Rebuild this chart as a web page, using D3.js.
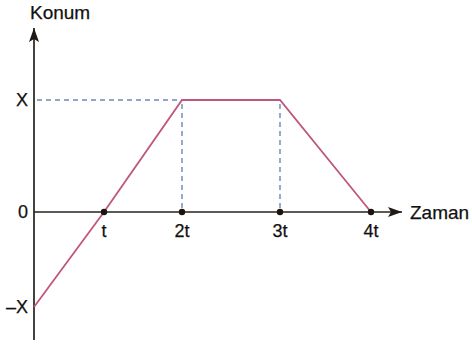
<!DOCTYPE html>
<html lang="tr">
<head>
    <meta charset="UTF-8">
    <title>Konum - Zaman</title>
    <script src="https://d3js.org/d3.v7.min.js"></script>
    <style>
        body {
            margin: 0;
            padding: 0;
            background: #fff;
            overflow: hidden;
        }

        svg text {
            font-family: "Liberation Sans", Arial, sans-serif;
            fill: #111;
            stroke: #111;
            stroke-width: 0.25px;
        }

        .axis {
            stroke: #24221d;
            stroke-width: 1.7px;
        }

        .guide {
            stroke: #6f86b5;
            stroke-width: 1.4px;
            stroke-dasharray: 5 4;
        }

        .motion {
            fill: none;
            stroke: #c0567f;
            stroke-width: 1.8px;
        }
    </style>
</head>
<body>
    <svg id="chart" width="472" height="346"></svg>
    <script>
        // time ticks (in units of t) and their labels
        var timeTicks = [0, 1, 2, 3, 4];
        var timeLabels = ['', 't', '2t', '3t', '4t'];

        // position ticks (in units of X) and their labels
        var posTicks = [-1, 0, 1];
        var posLabels = ['\u2013X', '0', 'X'];

        // konum-zaman points: time (t) and position (X)
        var times = [0, 1, 2, 3, 4];
        var positions = [-1, 0, 1, 1, 0];

        var svg = d3.select('#chart');

        // the drawing is not evenly spaced, so use piecewise scales
        var x = d3.scaleLinear()
            .domain([0, 1, 2, 3, 4])
            .range([34, 104, 182, 280, 371]);

        var y = d3.scaleLinear()
            .domain([-1, 0, 1])
            .range([307, 212, 100]);

        // arrow heads
        var defs = svg.append('defs');
        defs.append('marker')
            .attr('id', 'arrow')
            .attr('viewBox', '0 0 14 10')
            .attr('refX', 14)
            .attr('refY', 5)
            .attr('markerWidth', 14)
            .attr('markerHeight', 10)
            .attr('markerUnits', 'userSpaceOnUse')
            .attr('orient', 'auto')
            .append('path')
            .attr('d', 'M0,0 L14,5 L0,10 L3,5 Z')
            .attr('fill', '#1f1a14');

        // dashed guide lines
        var plateau = times.filter(function(d, i) { return positions[i] === 1; });

        svg.append('line')
            .attr('class', 'guide')
            .attr('x1', x(0) + 3)
            .attr('x2', x(plateau[0]))
            .attr('y1', y(1))
            .attr('y2', y(1));

        svg.selectAll('.vguide')
            .data(plateau)
            .enter().append('line')
            .attr('class', 'guide vguide')
            .attr('x1', function(d) { return x(d); })
            .attr('x2', function(d) { return x(d); })
            .attr('y1', y(1) + 4)
            .attr('y2', y(0));

        // axes
        svg.append('line')
            .attr('class', 'axis')
            .attr('x1', x(0))
            .attr('x2', x(0))
            .attr('y1', 340)
            .attr('y2', 28)
            .attr('marker-end', 'url(#arrow)');

        svg.append('line')
            .attr('class', 'axis')
            .attr('x1', x(0))
            .attr('x2', 402)
            .attr('y1', y(0))
            .attr('y2', y(0))
            .attr('marker-end', 'url(#arrow)');

        // the motion line
        var line = d3.line()
            .x(function(d) { return x(d[0]); })
            .y(function(d) { return y(d[1]); });

        svg.append('path')
            .attr('class', 'motion')
            .attr('d', line(d3.zip(times, positions)));

        // dots on the time axis
        svg.selectAll('.dot')
            .data(timeTicks.slice(1))
            .enter().append('circle')
            .attr('class', 'dot')
            .attr('cx', function(d) { return x(d); })
            .attr('cy', y(0))
            .attr('r', 3.2)
            .attr('fill', '#1a1410');

        // time labels
        svg.selectAll('.tlabel')
            .data(timeTicks)
            .enter().append('text')
            .attr('class', 'tlabel')
            .attr('x', function(d) { return x(d); })
            .attr('y', 237)
            .attr('text-anchor', 'middle')
            .attr('font-size', 18)
            .text(function(d, i) { return timeLabels[i]; });

        // position labels
        svg.selectAll('.plabel')
            .data(posTicks)
            .enter().append('text')
            .attr('class', 'plabel')
            .attr('x', 28)
            .attr('y', function(d) { return y(d); })
            .attr('dy', '0.36em')
            .attr('text-anchor', 'end')
            .attr('font-size', 18)
            .text(function(d, i) { return posLabels[i]; });

        // axis titles
        svg.append('text')
            .attr('x', 30)
            .attr('y', 19)
            .attr('font-size', 19)
            .text('Konum');

        svg.append('text')
            .attr('x', 410)
            .attr('y', 219)
            .attr('font-size', 19)
            .text('Zaman');
    </script>
</body>
</html>
